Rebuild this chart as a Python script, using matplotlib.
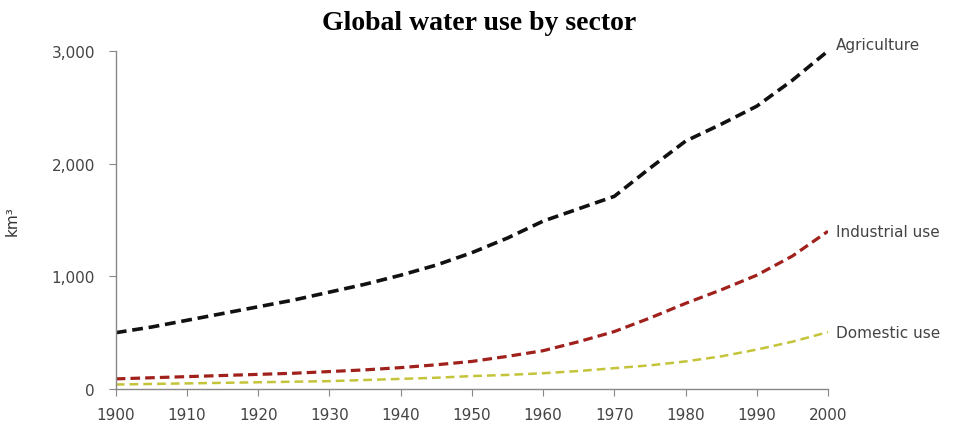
import matplotlib
matplotlib.use("Agg")
import matplotlib.pyplot as plt
from matplotlib.ticker import FuncFormatter

years = [1900, 1905, 1910, 1915, 1920, 1925, 1930, 1935, 1940, 1945, 1950,
         1955, 1960, 1965, 1970, 1975, 1980, 1985, 1990, 1995, 2000]
agriculture = [500, 550, 610, 670, 730, 790, 860, 930, 1010, 1100, 1210,
               1340, 1490, 1600, 1710, 1960, 2200, 2350, 2510, 2740, 3000]
industrial = [90, 100, 110, 120, 130, 140, 155, 170, 190, 215, 245,
              290, 340, 420, 510, 630, 760, 880, 1010, 1180, 1400]
domestic = [40, 45, 50, 55, 60, 65, 70, 80, 90, 100, 115,
            125, 140, 160, 185, 210, 245, 290, 350, 420, 505]
series_names = ["Agriculture", "Industrial use", "Domestic use"]
colors = ["#111111", "#a0201c", "#c4c43a"]

fig = plt.figure(figsize=(9.65, 4.35), dpi=100)
ax = fig.add_axes([0.120, 0.1034, 0.738, 0.7771])

ax.plot(years, agriculture, color=colors[0], lw=2.6, dashes=(3, 1.6))
ax.plot(years, industrial, color=colors[1], lw=2.3, dashes=(3, 1.6))
ax.plot(years, domestic, color=colors[2], lw=1.8, dashes=(3.5, 2))

for name, vals, dy in zip(series_names, [agriculture, industrial, domestic], [5, 0, 0]):
    ax.annotate(name, xy=(years[-1], vals[-1]), xytext=(6, dy), textcoords="offset points",
                fontsize=11, color="#444444", va="center", ha="left", annotation_clip=False)

ax.set_xlim(1900, 2000)
ax.set_ylim(0, 3000)
ax.set_xticks(range(1900, 2001, 10))
ax.set_yticks([0, 1000, 2000, 3000])
ax.yaxis.set_major_formatter(FuncFormatter(lambda v, p: f"{int(v):,}"))

for s in ["top", "right"]:
    ax.spines[s].set_visible(False)
for s in ["left", "bottom"]:
    ax.spines[s].set_color("#888888")
    ax.spines[s].set_linewidth(1.0)
ax.tick_params(axis="both", colors="#888888", labelcolor="#444444", labelsize=11, length=5)
ax.tick_params(axis="y", pad=10)
ax.tick_params(axis="x", pad=8)

ax.set_ylabel("km³", fontsize=11, color="#333333")
ax.yaxis.set_label_coords(-0.135, 0.5)
fig.text(0.497, 0.945, "Global water use by sector", ha="center", va="center",
         fontsize=20, fontweight="bold", family="Liberation Serif")

fig.savefig("out.png", dpi=100)
